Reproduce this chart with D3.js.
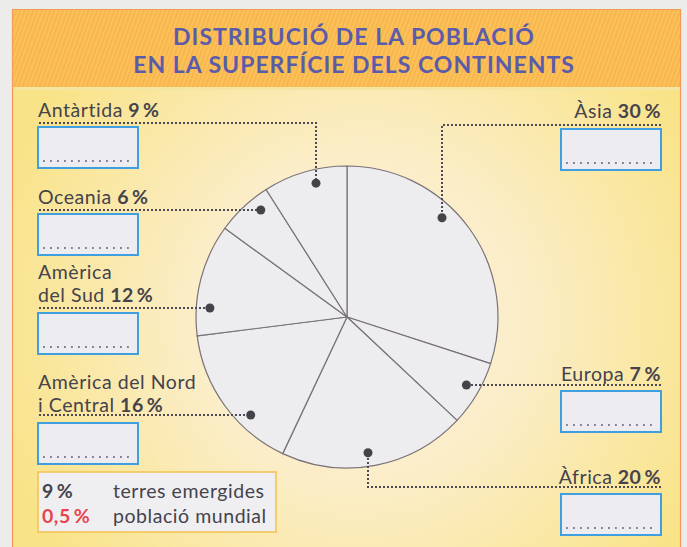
<!DOCTYPE html>
<html>
<head>
<meta charset="utf-8">
<script src="https://cdn.jsdelivr.net/npm/d3@7"></script>
<style>
  html, body { margin: 0; padding: 0; background: #ececea; }
  svg { display: block; }
</style>
</head>
<body>
<div id="chart"></div>
<script>
// land area share per continent (% of emerged land), clockwise from 12 o'clock
var continents = ["Àsia", "Europa", "Àfrica", "Amèrica del Nord i Central", "Amèrica del Sud", "Oceania", "Antàrtida"];
var landShare = [30, 7, 20, 16, 12, 6, 9];
// how each name is broken over lines in the labels
var labelLines = [["Àsia"], ["Europa"], ["Àfrica"], ["Amèrica del Nord", "i Central"], ["Amèrica", "del Sud"], ["Oceania "], ["Antàrtida"]];
var titleLines = ["DISTRIBUCIÓ DE LA POBLACIÓ", "EN LA SUPERFÍCIE DELS CONTINENTS"];
var legendValues = ["9\u2009%", "0,5\u2009%"];
var legendTexts = ["terres emergides", "població mundial"];

var width = 687, height = 547;
var cx = 347, cy = 317, radius = 151;
var font = "Lato, 'Open Sans', sans-serif";
var labelSize = "19.5px", labelSpacing = "0.55px";

// where each label sits (same order as continents)
var layout = [
    {side: "right", textY: 118, leaderY: 125, boxY: 129, vx: 442},
    {side: "right", textY: 381, leaderY: 385, boxY: 391},
    {side: "right", textY: 484, leaderY: 487, boxY: 494, vx: 368},
    {side: "left", textY: 412, leaderY: 415, boxY: 423},
    {side: "left", textY: 302, leaderY: 308, boxY: 313},
    {side: "left", textY: 204, leaderY: 210, boxY: 214},
    {side: "left", textY: 117, leaderY: 123, boxY: 127, vx: 316}
];

var svg = d3.select("#chart").append("svg")
    .attr("width", width)
    .attr("height", height);

var defs = svg.append("defs");
var grad = defs.append("radialGradient")
    .attr("id", "bodyGrad")
    .attr("gradientUnits", "userSpaceOnUse")
    .attr("cx", 360).attr("cy", 320).attr("r", 380);
grad.append("stop").attr("offset", "0%").attr("stop-color", "#fcf1e2");
grad.append("stop").attr("offset", "45%").attr("stop-color", "#fbedc6");
grad.append("stop").attr("offset", "100%").attr("stop-color", "#f9e389");

var hatch = defs.append("pattern")
    .attr("id", "hatch")
    .attr("patternUnits", "userSpaceOnUse")
    .attr("width", 4).attr("height", 4)
    .attr("patternTransform", "rotate(20)");
hatch.append("rect").attr("width", 4).attr("height", 4).attr("fill", "#f9b64f");
hatch.append("rect").attr("width", 1.6).attr("height", 4).attr("fill", "#fbc55c");

// frame
svg.append("rect")
    .attr("x", 12).attr("y", 88).attr("width", 669).attr("height", height - 88)
    .attr("fill", "url(#bodyGrad)");
svg.append("rect")
    .attr("x", 12).attr("y", 9).attr("width", 669).attr("height", 79)
    .attr("fill", "url(#hatch)");
svg.append("rect")
    .attr("x", 12).attr("y", 87).attr("width", 669).attr("height", 3)
    .attr("fill", "#f2e6a2");
svg.append("path")
    .attr("d", "M12.5," + height + "V9.5H680.5V" + height)
    .attr("fill", "none")
    .attr("stroke", "#f29a5a")
    .attr("stroke-width", 1.2);

// title, one text with a tspan per line
var title = svg.append("text")
    .attr("text-anchor", "middle")
    .style("font-family", font)
    .style("font-size", "23px")
    .style("font-weight", "bold")
    .style("letter-spacing", "1px")
    .style("fill", "#5a5cab");
title.selectAll("tspan")
    .data(titleLines)
    .enter().append("tspan")
    .attr("x", 354)
    .attr("y", function (d, i) { return 45 + i * 28; })
    .text(function (d) { return d; });

// pie
var pie = d3.pie().sort(null).value(function (d) { return d; });
var arc = d3.arc().innerRadius(0).outerRadius(radius);
var arcs = pie(landShare);

var g = svg.append("g").attr("transform", "translate(" + cx + "," + cy + ")");
g.selectAll(".slice")
    .data(arcs)
    .enter().append("path")
    .attr("class", "slice")
    .attr("d", arc)
    .style("fill", "#ededf0")
    .style("stroke", "#7a7276")
    .style("stroke-width", 1.2)
    .style("stroke-linejoin", "round");

// anchor dot where the leader meets the slice
var dotR = radius * 0.91;
function dotPos(l) {
    if (l.vx !== undefined) {
        var dx = l.vx - cx;
        var dy = Math.sqrt(dotR * dotR - dx * dx);
        return [l.vx, l.leaderY < cy ? cy - dy : cy + dy];
    }
    var ddy = l.leaderY - cy;
    var ddx = Math.sqrt(dotR * dotR - ddy * ddy);
    return [l.side === "left" ? cx - ddx : cx + ddx, l.leaderY];
}

var leftX = 38, rightX = 661, boxW = 100, boxH = 41;

continents.forEach(function (name, i) {
    var l = layout[i];
    var p = dotPos(l);
    var edge = l.side === "left" ? leftX + 1 : rightX;
    var pts;
    if (l.vx !== undefined) {
        pts = [[edge, l.leaderY], [l.vx, l.leaderY], [l.vx, p[1]]];
    } else {
        pts = [[edge, l.leaderY], [p[0], l.leaderY]];
    }
    svg.append("path")
        .attr("d", d3.line()(pts))
        .attr("fill", "none")
        .attr("stroke", "#4d4a55")
        .attr("stroke-width", 2)
        .attr("stroke-dasharray", "2,2");
    svg.append("circle")
        .attr("cx", p[0]).attr("cy", p[1]).attr("r", 4.5)
        .attr("fill", "#454349");

    // label text: one text, a tspan per line, bold percentage at the end
    var lines = labelLines[i];
    var tx = l.side === "left" ? leftX : rightX;
    var t = svg.append("text")
        .attr("text-anchor", l.side === "left" ? "start" : "end")
        .style("font-family", font)
        .style("font-size", labelSize)
        .style("letter-spacing", labelSpacing)
        .style("fill", "#45434c");
    lines.forEach(function (line, j) {
        t.append("tspan")
            .attr("x", tx)
            .attr("y", l.textY - (lines.length - 1 - j) * 23.5)
            .text(line);
    });
    t.append("tspan")
        .style("font-weight", "bold")
        .text(" " + landShare[i] + "\u2009%");

    // answer box
    var bx = l.side === "left" ? leftX : rightX - boxW;
    svg.append("rect")
        .attr("x", bx).attr("y", l.boxY).attr("width", boxW).attr("height", boxH)
        .attr("fill", "#ededf1")
        .attr("stroke", "#3f9fe0")
        .attr("stroke-width", 2);
    svg.append("line")
        .attr("x1", bx + 5).attr("x2", bx + boxW - 4)
        .attr("y1", l.boxY + boxH - 7).attr("y2", l.boxY + boxH - 7)
        .attr("stroke", "#7e7b94")
        .attr("stroke-width", 1.8)
        .attr("stroke-dasharray", "1.8,5.2");
});

// legend
svg.append("rect")
    .attr("x", 38).attr("y", 472).attr("width", 238).attr("height", 60)
    .attr("fill", "#efeff1")
    .attr("stroke", "#f3c24c")
    .attr("stroke-width", 1.5);
legendValues.forEach(function (v, i) {
    svg.append("text")
        .attr("x", 42).attr("y", 498 + i * 25)
        .style("font-family", font)
        .style("font-size", labelSize)
        .style("letter-spacing", labelSpacing)
        .style("font-weight", "bold")
        .style("fill", i === 0 ? "#45434c" : "#e8444e")
        .text(v);
    svg.append("text")
        .attr("x", 113).attr("y", 498 + i * 25)
        .style("font-family", font)
        .style("font-size", labelSize)
        .style("letter-spacing", labelSpacing)
        .style("fill", "#45434c")
        .text(legendTexts[i]);
});
</script>
</body>
</html>
